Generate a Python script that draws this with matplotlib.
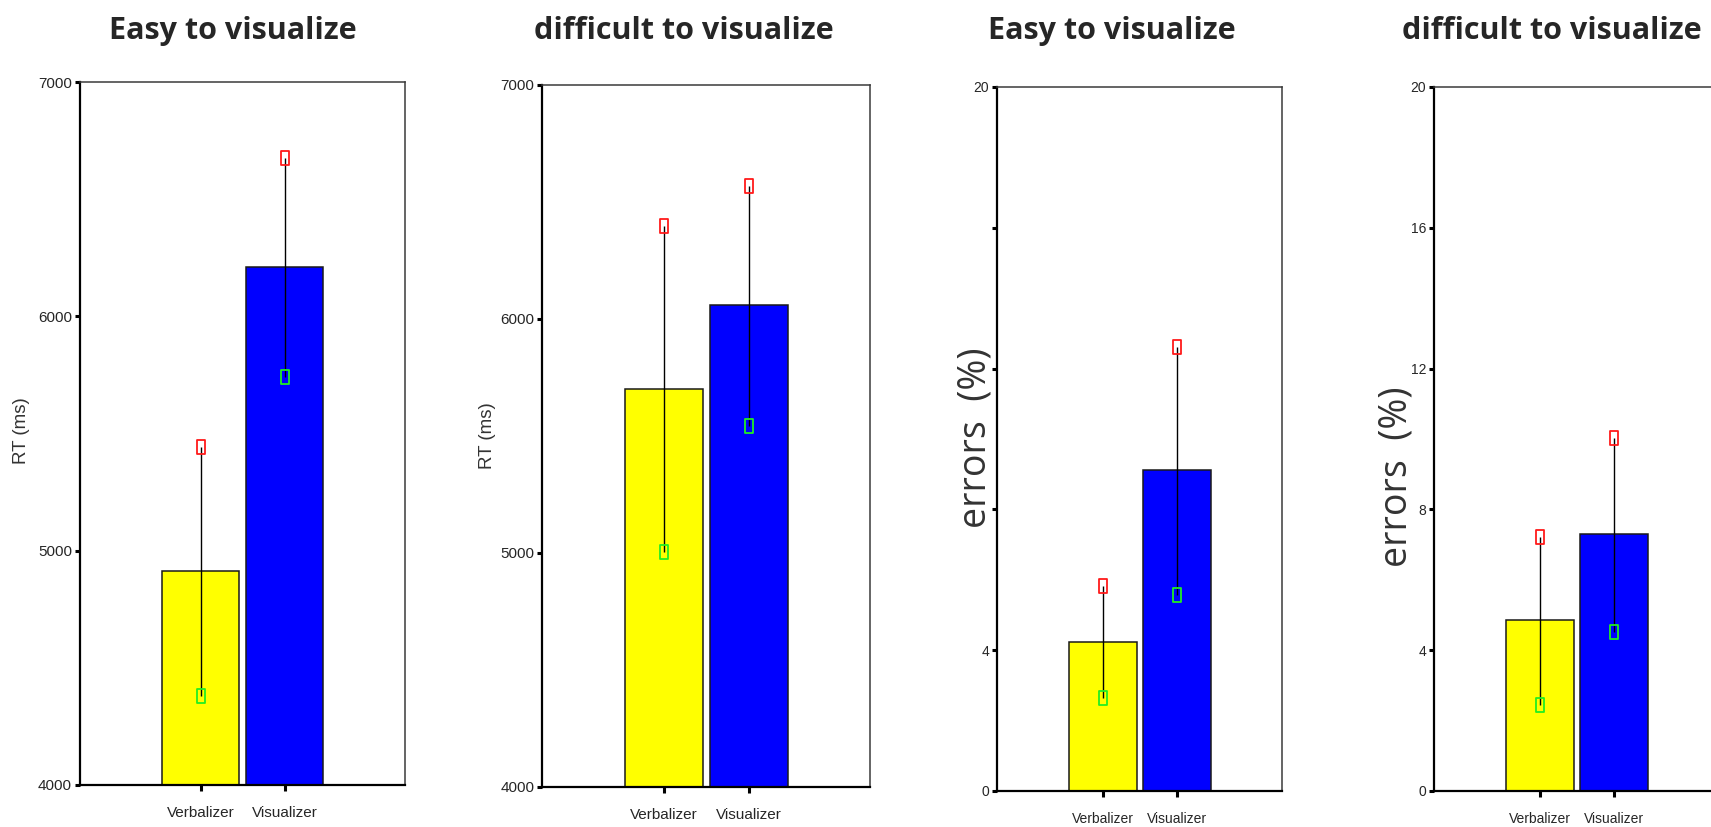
import matplotlib
matplotlib.use("Agg")
import matplotlib.pyplot as plt
from matplotlib.path import Path

# ---------------- data ----------------
categories = ["Verbalizer", "Visualizer"]
titles = ["Easy to visualize", "difficult to visualize", "Easy to visualize", "difficult to visualize"]

rt_easy_mean = [4915, 6212]
rt_easy_upper = [5443, 6677]
rt_easy_lower = [4381, 5741]

rt_diff_mean = [5701, 6059]
rt_diff_upper = [6398, 6569]
rt_diff_lower = [5003, 5543]

err_easy_mean = [4.24, 9.11]
err_easy_upper = [5.83, 12.60]
err_easy_lower = [2.64, 5.57]

err_diff_mean = [4.85, 7.29]
err_diff_upper = [7.21, 10.03]
err_diff_lower = [2.44, 4.52]

rt_ticks = [4000, 5000, 6000, 7000]
rt_ticklabels = ["4000", "5000", "6000", "7000"]
err_ticks = [0, 4, 8, 12, 16, 20]
err_ticklabels_easy = ["0", "4", "", "", "", "20"]
err_ticklabels_diff = ["0", "4", "8", "12", "16", "20"]

rt_label = "RT (ms)"
err_label = "errors  (%)"

bar_colors = ["#ffff00", "#0000ff"]

# ---------------- figure ----------------
W, H = 1711, 827
fig = plt.figure(figsize=(W / 100, H / 100), dpi=100)
fig.patch.set_facecolor("white")

narrow = ["Liberation Sans", "DejaVu Sans"]

def rect(left, right, top, bottom):
    return [left / W, 1 - bottom / H, (right - left) / W, (bottom - top) / H]

box_marker = Path([(-0.34, -0.5), (0.34, -0.5), (0.34, 0.5), (-0.34, 0.5), (-0.34, -0.5)],
                  [Path.MOVETO, Path.LINETO, Path.LINETO, Path.LINETO, Path.CLOSEPOLY])

panels = [
    dict(pos=rect(79.5, 405, 82, 785), mean=rt_easy_mean, up=rt_easy_upper, lo=rt_easy_lower,
         ylim=(4000, 7000), ticks=rt_ticks, tl=rt_ticklabels, tfs=11, xfs=11),
    dict(pos=rect(542, 870, 85, 787), mean=rt_diff_mean, up=rt_diff_upper, lo=rt_diff_lower,
         ylim=(4000, 7000), ticks=rt_ticks, tl=rt_ticklabels, tfs=11, xfs=11),
    dict(pos=rect(997, 1282, 87, 791), mean=err_easy_mean, up=err_easy_upper, lo=err_easy_lower,
         ylim=(0, 20), ticks=err_ticks, tl=err_ticklabels_easy, tfs=10, xfs=10),
    dict(pos=rect(1434, 1719, 87, 791), mean=err_diff_mean, up=err_diff_upper, lo=err_diff_lower,
         ylim=(0, 20), ticks=err_ticks, tl=err_ticklabels_diff, tfs=10, xfs=10),
]

xs = list(range(len(categories)))
for p in panels:
    ax = fig.add_axes(p["pos"])
    ax.bar(xs, p["mean"], width=0.92, color=bar_colors, edgecolor="#1a1a1a",
           linewidth=1.1, zorder=2)
    for x, lo, hi in zip(xs, p["lo"], p["up"]):
        ax.plot([x, x], [lo, hi], color="black", lw=1.0, zorder=3, solid_capstyle="butt")
    ax.plot(xs, p["up"], linestyle="none", marker=box_marker, markersize=9.5,
            markerfacecolor="none", markeredgecolor="#ff1a1a", markeredgewidth=1.3, zorder=4)
    ax.plot(xs, p["lo"], linestyle="none", marker=box_marker, markersize=9.5,
            markerfacecolor="none", markeredgecolor="#22ee22", markeredgewidth=1.3, zorder=4)
    ax.set_xlim(-1.44, 2.43)
    ax.set_ylim(*p["ylim"])
    ax.set_yticks(p["ticks"])
    ax.set_yticklabels(p["tl"], family=narrow, fontsize=p["tfs"], color="#262626")
    ax.set_xticks(xs)
    ax.set_xticklabels(categories, family=narrow, fontsize=p["xfs"], color="#262626")
    ax.tick_params(axis="y", direction="out", length=3.5, width=2.2, pad=2, color="black")
    ax.tick_params(axis="x", direction="out", length=4, width=2.2, pad=11, color="black")
    for s in ["left", "bottom"]:
        ax.spines[s].set_linewidth(1.6)
        ax.spines[s].set_color("black")
    for s in ["top", "right"]:
        ax.spines[s].set_linewidth(1.1)
        ax.spines[s].set_color("#3a3a3a")

# titles
title_x = [233, 683.5, 1112, 1551.5]
for t, x in zip(titles, title_x):
    fig.text(x / W, 1 - 39 / H, t, ha="center", va="baseline", fontsize=22,
             fontweight="bold", family=["Open Sans", "DejaVu Sans"], color="#262626")

# y labels
fig.text(22 / W, 1 - 431 / H, rt_label, rotation=90, ha="center", va="center",
         fontsize=13.5, family=["Liberation Sans", "DejaVu Sans"], color="#333333")
fig.text(487.5 / W, 1 - 436 / H, rt_label, rotation=90, ha="center", va="center",
         fontsize=13.5, family=["Liberation Sans", "DejaVu Sans"], color="#333333")
fig.text(975 / W, 1 - 438 / H, err_label, rotation=90, ha="center", va="center",
         fontsize=27, family=["Open Sans", "DejaVu Sans"], color="#333333")
fig.text(1397 / W, 1 - 477 / H, err_label, rotation=90, ha="center", va="center",
         fontsize=27, family=["Open Sans", "DejaVu Sans"], color="#333333")

fig.savefig("out.png", dpi=100, facecolor="white")
